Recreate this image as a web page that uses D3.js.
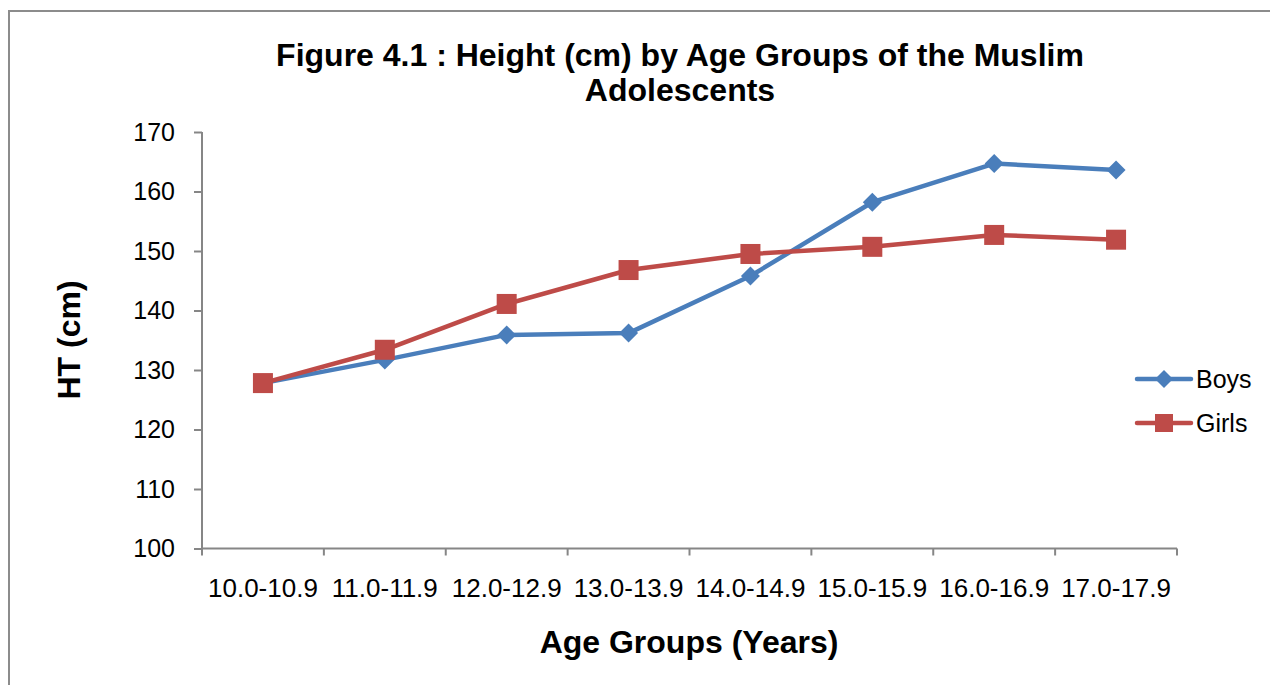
<!DOCTYPE html>
<html><head><meta charset="utf-8">
<script src="https://cdn.jsdelivr.net/npm/d3@7/dist/d3.min.js"></script>
<style>body{margin:0;background:#fff}svg{display:block;font-family:"Liberation Sans",Arial,sans-serif}</style>
</head><body><svg id="c" width="1270" height="685"></svg>
<script>
const categories = ["10.0-10.9","11.0-11.9","12.0-12.9","13.0-13.9","14.0-14.9","15.0-15.9","16.0-16.9","17.0-17.9"];
const boys  = [127.8,131.7,135.9,136.2,145.8,158.2,164.7,163.6];
const girls = [127.8,133.4,141.1,146.8,149.5,150.7,152.7,151.9];
const yTicks = [100,110,120,130,140,150,160,170];
const seriesNames = ["Boys","Girls"];
const titleLines = ["Figure 4.1 : Height (cm) by Age Groups of the Muslim","Adolescents"];

const svg = d3.select("#c");
const blue = "#4A7EBB", red = "#BE4B48", axisCol = "#868686";

svg.append("rect").attr("x",9).attr("y",11).attr("width",1300).attr("height",700)
  .attr("fill","none").attr("stroke","#8c8c8c").attr("stroke-width",2);

const x = d3.scaleBand().domain(categories).range([202,1177]).padding(0);
const y = d3.scaleLinear().domain([100,170]).range([548.5,132]);

// y axis
const ya = svg.append("g").attr("transform","translate(202,0)")
  .call(d3.axisLeft(y).tickValues(yTicks).tickSize(8).tickPadding(19));
ya.select(".domain").attr("stroke",axisCol).attr("stroke-width",2).attr("d","M0,132V548.5");
ya.selectAll(".tick line").attr("stroke",axisCol).attr("stroke-width",2);
ya.selectAll(".tick text").attr("font-size",25).attr("fill","#000").attr("font-family","Liberation Sans, Arial");

// x axis
const xa = svg.append("g").attr("transform","translate(0,548.5)");
xa.append("line").attr("x1",202).attr("x2",1177).attr("stroke",axisCol).attr("stroke-width",2);
const bounds = categories.map(c=>x(c)).concat([x.range()[1]]);
xa.selectAll("line.t").data(bounds).join("line").attr("class","t")
  .attr("x1",d=>d).attr("x2",d=>d).attr("y1",0).attr("y2",7).attr("stroke",axisCol).attr("stroke-width",2);
xa.selectAll("text").data(categories).join("text")
  .attr("x",d=>x(d)+x.bandwidth()/2).attr("y",48.5).attr("text-anchor","middle")
  .attr("font-size",26).text(d=>d);

const cx = d => x(d)+x.bandwidth()/2;
const line = d3.line().x((d,i)=>cx(categories[i])).y(d=>y(d));

svg.append("path").datum(boys).attr("d",line).attr("fill","none").attr("stroke",blue).attr("stroke-width",4.5).attr("stroke-linejoin","round");
svg.append("path").datum(girls).attr("d",line).attr("fill","none").attr("stroke",red).attr("stroke-width",4.5).attr("stroke-linejoin","round");

const diamond = (g,px,py,s)=>g.append("path").attr("d",`M${px},${py-s}L${px+s},${py}L${px},${py+s}L${px-s},${py}Z`).attr("fill",blue);
const square = (g,px,py,s)=>g.append("rect").attr("x",px-s).attr("y",py-s).attr("width",2*s).attr("height",2*s).attr("fill",red);

boys.forEach((v,i)=>diamond(svg,cx(categories[i]),y(v),9.5));
girls.forEach((v,i)=>square(svg,cx(categories[i]),y(v),10));

// legend
const lg = svg.append("g");
[[seriesNames[0],379,blue,"d"],[seriesNames[1],423,red,"s"]].forEach(([n,ly,c,m])=>{
  lg.append("line").attr("x1",1137).attr("x2",1191).attr("y1",ly).attr("y2",ly).attr("stroke",c).attr("stroke-width",4.5).attr("stroke-linecap","round");
  if(m==="d") diamond(lg,1164,ly,9); else square(lg,1164,ly,9);
  lg.append("text").attr("x",1196).attr("y",ly+9).attr("font-size",25).text(n);
});

// titles
svg.append("text").attr("x",680).attr("y",66).attr("text-anchor","middle").attr("font-size",32).attr("font-weight","bold").text(titleLines[0]);
svg.append("text").attr("x",680).attr("y",101).attr("text-anchor","middle").attr("font-size",32).attr("font-weight","bold").text(titleLines[1]);
svg.append("text").attr("x",689).attr("y",653).attr("text-anchor","middle").attr("font-size",32).attr("font-weight","bold").text("Age Groups (Years)");
svg.append("text").attr("transform","translate(80,340) rotate(-90)").attr("text-anchor","middle").attr("font-size",32).attr("font-weight","bold").text("HT (cm)");
</script></body></html>
